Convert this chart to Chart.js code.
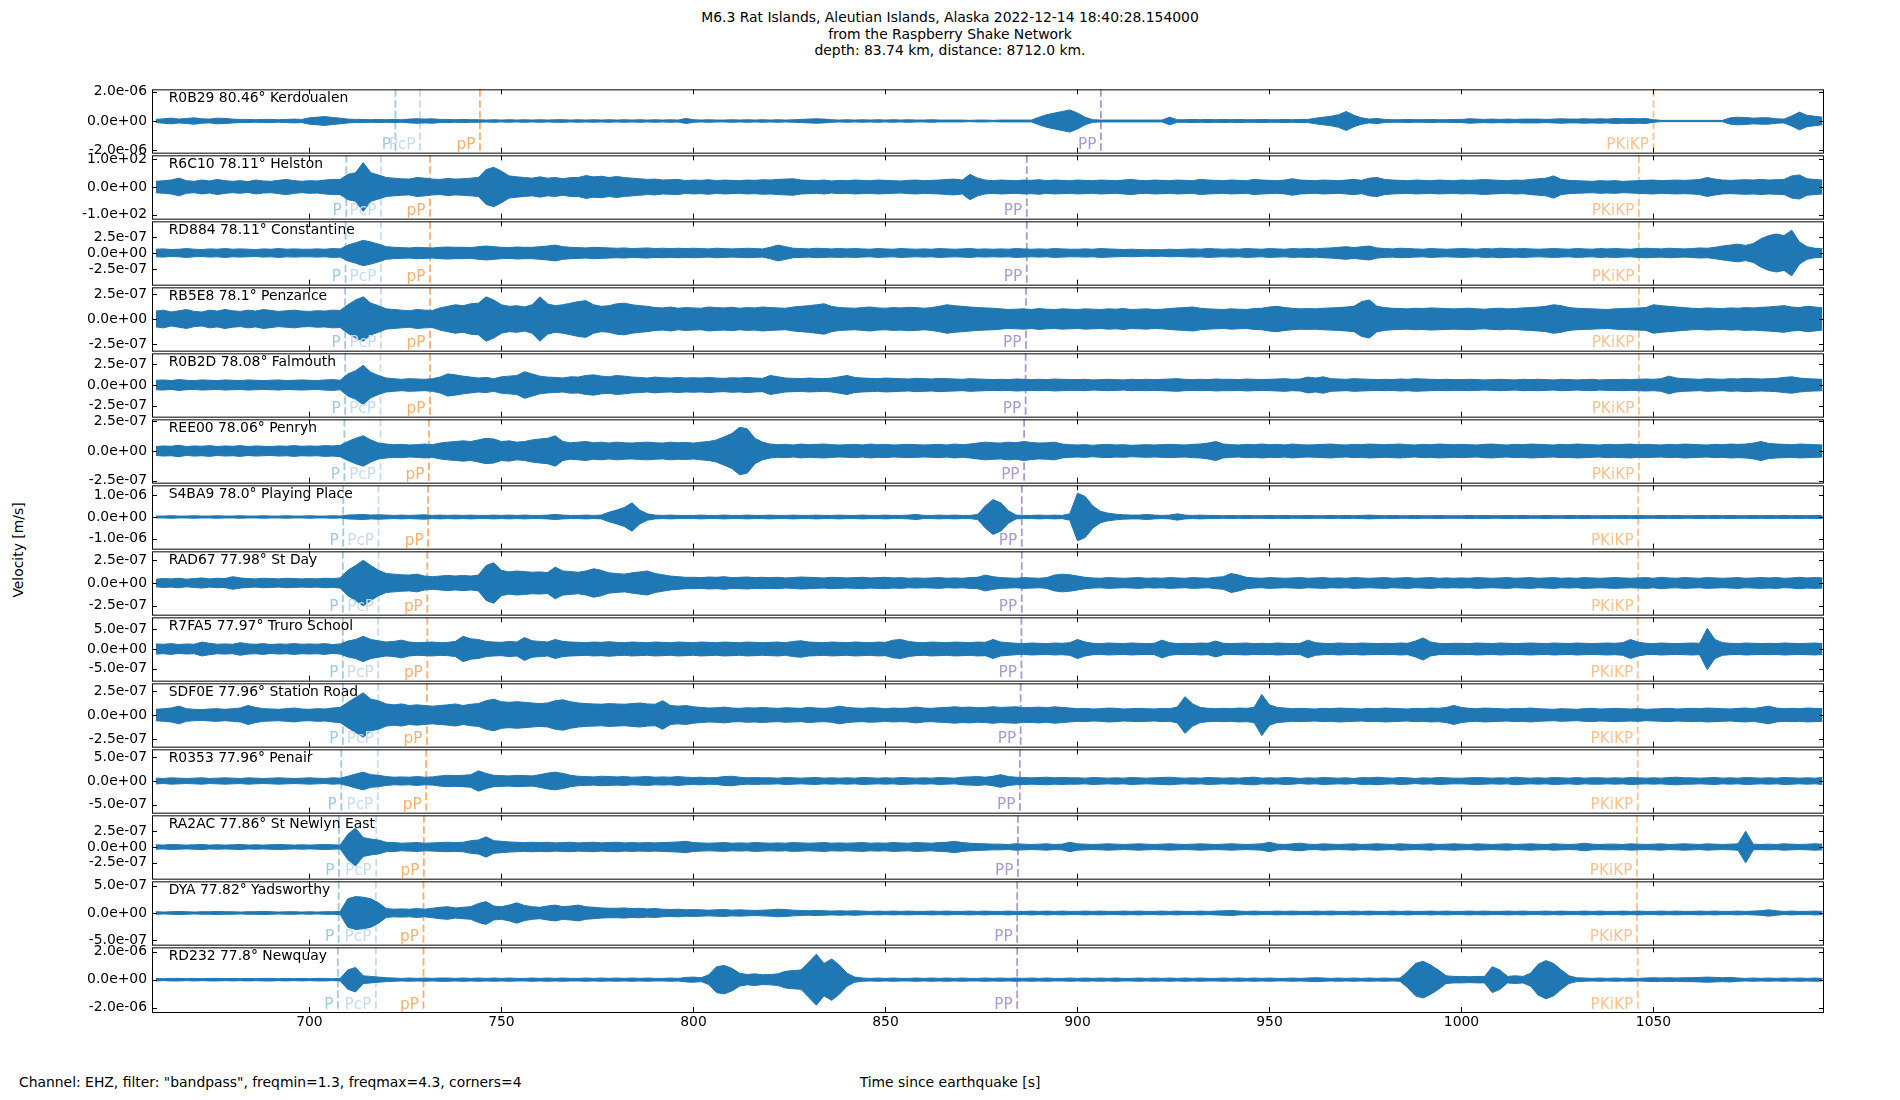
<!DOCTYPE html>
<html><head><meta charset="utf-8">
<script src="https://cdn.jsdelivr.net/npm/chart.js@4.4.0/dist/chart.umd.min.js"></script>
<style>
html,body{margin:0;padding:0;background:#fff;width:1900px;height:1100px;overflow:hidden;}
#wrap{position:relative;width:1900px;height:1100px;background:#fff;}
canvas{position:absolute;left:0;}
.txt{position:absolute;font-family:"DejaVu Sans";font-size:13.9px;line-height:16px;color:#000;white-space:nowrap;}
.ctr{left:0;width:1900px;text-align:center;}
</style></head><body><div id="wrap">
<div class="txt ctr" style="top:9px">M6.3 Rat Islands, Aleutian Islands, Alaska 2022-12-14 18:40:28.154000</div>
<div class="txt ctr" style="top:25.5px">from the Raspberry Shake Network</div>
<div class="txt ctr" style="top:42px">depth: 83.74 km, distance: 8712.0 km.</div>
<div class="txt" style="left:-32px;top:542px;width:100px;text-align:center;transform:rotate(-90deg);">Velocity [m/s]</div>
<div class="txt ctr" style="top:1074px">Time since earthquake [s]</div>
<div class="txt" style="left:19px;top:1074px">Channel: EHZ, filter: "bandpass", freqmin=1.3, freqmax=4.3, corners=4</div>
</div>
<script>
// ---- station labels ----
const stations = ['R0B29 80.46° Kerdoualen','R6C10 78.11° Helston','RD884 78.11° Constantine','RB5E8 78.1° Penzance',
  'R0B2D 78.08° Falmouth','REE00 78.06° Penryn','S4BA9 78.0° Playing Place','RAD67 77.98° St Day',
  'R7FA5 77.97° Truro School','SDF0E 77.96° Station Road','R0353 77.96° Penair','RA2AC 77.86° St Newlyn East',
  'DYA 77.82° Yadsworthy','RD232 77.8° Newquay'];
// y-axis tick value and axis limit per panel
const yTickVal = [2.0e-6, 1.0e2, 2.5e-7, 2.5e-7, 2.5e-7, 2.5e-7, 1.0e-6, 2.5e-7, 5.0e-7, 2.5e-7, 5.0e-7, 2.5e-7, 5.0e-7, 2.0e-6];
const yLimit   = [2.17e-6, 114, 4.95e-7, 3.17e-7, 3.85e-7, 2.66e-7, 1.47e-6, 3.47e-7, 8.0e-7, 3.3e-7, 6.67e-7, 5.1e-7, 5.8e-7, 2.31e-6];
const xTicks = [700, 750, 800, 850, 900, 950, 1000, 1050];
// phase arrival times [s] per panel
const phaseNames = ['P','PcP','pP','PP','PKiKP'];
const arrP     = [722.4,709.6,709.4,709.3,709.3,709.1,708.8,708.7,708.7,708.7,708.3,707.7,707.6,707.4];
const arrPcP   = [728.8,718.6,718.6,718.6,718.5,718.5,718.0,718.0,717.9,717.9,717.8,717.4,717.3,717.3];
const arrpP    = [744.4,731.4,731.4,731.4,731.4,731.1,730.9,730.7,730.7,730.6,730.4,729.8,729.7,729.7];
const arrPP    = [906.1,886.8,886.8,886.6,886.5,886.1,885.5,885.5,885.4,885.2,885.0,884.5,884.3,884.3];
const arrPKiKP = [1050.0,1046.2,1046.2,1046.2,1046.2,1046.2,1046.0,1046.0,1045.9,1045.9,1045.9,1045.7,1045.7,1045.9];
// trace envelopes: amplitude in % of the panel's axis limit, one value every 2 s from 660 s
const tStart = 660, tStep = 2;
const amp1 = [5,7,9,6,8,10,7,6,9,8, 6,5,5,4,5,5,4,5,6,5, 10,12,14,11,9,6,5,5,4,5, 4,5,4,6,7,6,7,5,5,4,
 5,4,4,3,4,3,4,3,4,3, 4,3,4,4,3,4,3,4,3,4, 3,4,3,4,3,4,3,4,3,8, 4,3,4,3,3,4,3,4,3,4,
 3,4,3,4,5,6,7,6,4,3, 4,3,4,3,4,3,4,3,4,3, 3,4,3,3,3,3,2,3,3,2, 3,3,3,3,3,12,20,25,30,35,
 25,12,4,3,3,3,3,3,3,3, 3,3,12,4,4,5,4,5,4,5, 4,5,4,4,5,4,4,5,4,5, 5,9,12,15,20,30,18,10,6,8,
 5,4,4,5,4,4,5,4,4,5, 5,7,6,5,6,5,6,5,6,6, 6,5,6,7,6,6,7,6,7,6, 8,7,8,7,8,4,2,2,2,2,
 2,2,2,2,2,10,12,11,9,10, 10,7,6,16,28,18,15,12];
const amp2 = [18,20,22,28,20,18,22,19,24,20, 18,20,17,22,19,18,21,24,20,18, 20,19,22,24,24,40,45,77,45,38, 30,28,26,25,30,28,25,24,27,25,
 26,28,30,55,62,50,35,32,30,28, 32,28,30,26,30,30,36,32,34,30, 33,30,28,26,24,25,22,23,24,20, 22,21,23,20,22,21,20,22,21,23,
 22,24,25,26,22,21,20,22,19,21, 20,22,21,20,22,21,20,19,21,22, 20,21,22,24,25,22,40,28,22,20, 22,21,20,22,21,23,20,22,21,20,
 22,21,20,22,21,20,22,24,21,20, 22,21,20,22,21,20,24,22,21,20, 22,21,20,24,22,21,20,22,26,22, 21,20,22,21,20,22,24,21,28,30,
 24,22,21,20,22,21,20,22,21,20, 22,21,22,24,22,21,20,22,21,24, 26,28,35,24,21,20,19,18,20,19, 20,18,19,20,21,22,20,21,22,21,
 22,24,30,25,22,21,22,23,22,24, 22,23,24,35,38,26,24,22];
const amp3 = [12,13,11,12,14,12,11,13,12,14, 12,13,12,11,13,12,14,12,13,12, 12,13,12,14,13,25,32,40,35,28, 20,18,17,16,18,17,16,18,19,18,
 18,17,20,22,20,18,17,19,18,18, 20,22,25,20,18,17,16,18,17,16, 15,16,14,15,16,14,15,14,15,14, 15,14,13,15,14,13,14,15,14,13,
 18,25,20,15,14,13,15,14,13,14, 13,14,13,12,14,13,12,14,13,12, 13,12,14,13,12,13,14,12,13,12, 13,12,14,13,12,13,12,14,13,12,
 12,13,12,14,13,12,11,12,11,10, 11,10,12,11,12,13,12,14,13,12, 13,12,14,13,12,14,13,12,14,13, 14,13,15,16,18,20,17,20,22,16,
 14,13,15,14,13,12,14,13,12,13, 14,13,12,14,13,15,14,13,14,13, 12,13,14,13,12,14,13,12,14,13, 14,13,12,14,15,14,13,15,14,13,
 14,16,15,18,22,25,28,24,30,45, 55,60,55,72,35,20,15,14];
const amp4 = [25,28,22,26,30,24,22,28,25,30, 26,24,28,25,30,27,24,26,28,25, 24,26,25,28,27,45,60,70,50,42, 32,30,28,26,30,28,27,35,40,45,
 42,48,50,70,60,45,40,42,38,45, 70,48,42,45,50,55,58,45,40,42, 48,50,45,42,40,36,35,38,34,36, 35,34,38,36,35,37,34,36,35,38,
 36,35,34,38,40,42,45,48,40,36, 35,34,36,38,35,34,36,35,37,36, 34,36,40,45,42,40,38,36,35,34, 32,30,31,32,30,33,31,30,32,31,
 30,32,31,30,32,31,33,30,31,32, 30,31,33,35,36,38,34,32,31,30, 32,31,30,33,34,38,40,36,34,32, 33,32,34,35,36,38,40,55,60,40,
 36,34,33,32,34,33,35,34,33,32, 33,34,32,31,33,34,32,33,35,36, 38,40,45,42,36,34,33,32,31,30, 32,33,34,35,36,45,42,40,38,36,
 34,33,35,34,33,35,34,36,35,37, 38,40,42,38,36,40,38,35];
const amp5 = [15,16,14,17,15,14,16,15,14,16, 15,14,16,15,14,15,16,14,15,16, 15,14,16,17,15,35,45,62,40,30, 22,20,18,20,19,18,20,25,35,32,
 28,25,22,24,20,26,28,30,42,35, 28,25,24,22,26,25,30,32,28,26, 30,28,25,24,22,25,23,22,24,22, 23,22,24,22,21,23,22,24,22,21,
 30,26,22,21,20,22,21,20,22,26, 30,24,22,21,20,22,21,20,19,21, 20,19,21,20,19,18,20,19,18,17, 18,17,19,18,17,18,17,19,18,17,
 17,18,16,17,18,17,16,18,17,18, 17,18,19,20,18,17,18,17,19,18, 18,17,19,18,17,18,19,20,18,19, 25,22,26,20,19,18,20,19,18,17,
 18,17,19,18,20,19,18,17,18,17, 17,18,17,16,17,18,17,16,18,17, 18,17,16,18,17,16,17,18,16,17, 17,18,17,18,19,18,20,28,22,20,
 19,18,20,19,18,20,19,21,20,19, 20,21,24,26,22,20,19,18];
const amp6 = [14,16,15,18,14,16,15,17,14,16, 15,17,14,16,15,14,16,15,17,15, 16,15,17,16,18,30,40,48,35,25, 22,20,21,19,20,22,20,25,28,30,
 32,30,35,40,38,30,32,28,30,35, 38,40,48,30,26,28,30,26,28,25, 28,26,25,27,28,26,25,28,26,27, 25,28,30,35,45,55,75,70,40,28,
 22,20,21,19,22,20,21,22,20,19, 20,21,19,22,20,21,19,20,21,20, 19,20,21,19,22,20,22,25,28,26, 25,28,26,30,27,25,26,28,22,20,
 19,20,18,20,21,19,20,18,19,20, 19,20,21,20,19,21,22,25,30,22, 20,19,21,20,22,20,21,19,22,20, 19,20,21,22,20,19,21,20,22,21,
 20,21,22,20,19,21,20,22,21,20, 21,20,19,21,22,20,19,21,20,22, 21,20,19,21,20,22,21,20,19,21, 20,21,22,20,21,20,19,21,20,22,
 21,20,19,21,20,22,21,22,25,30, 24,22,21,20,22,21,20,19];
const amp7 = [3,3,4,3,3,4,3,3,4,3, 3,4,3,3,4,3,3,4,3,3, 4,3,3,4,3,6,7,8,6,7, 6,5,6,5,6,7,5,6,5,6,
 5,6,5,5,6,5,6,5,6,5, 5,6,8,6,5,5,6,5,6,15, 22,30,45,22,10,6,5,6,5,5, 5,6,5,5,6,5,5,6,5,5,
 6,5,5,6,5,5,6,5,5,6, 5,5,6,5,5,6,5,5,6,8, 5,5,6,5,6,5,5,8,35,55, 45,20,6,5,5,6,5,6,5,10,
 75,65,35,18,12,9,7,6,6,8, 6,5,6,10,6,5,6,5,5,4, 5,4,5,4,4,5,4,5,4,4, 5,4,4,5,4,5,4,5,6,5,
 4,5,4,4,5,4,4,5,4,4, 4,5,4,5,4,4,5,4,5,4, 4,5,4,4,5,4,5,4,4,5, 4,5,4,5,4,4,5,4,5,4,
 4,5,4,5,4,5,4,4,5,4, 5,4,5,4,5,4,5,4];
const amp8 = [12,14,13,15,12,14,16,13,15,14, 20,16,14,13,15,14,13,15,14,13, 14,13,15,14,16,40,55,72,55,40, 30,28,26,25,28,22,20,22,24,22,
 24,22,25,55,64,40,35,38,36,34, 35,33,50,38,36,34,38,45,40,32, 30,28,32,35,38,30,26,22,20,18, 18,17,19,18,20,17,18,19,17,18,
 17,18,16,17,19,18,17,16,18,17, 16,17,18,16,17,18,16,17,15,16, 15,16,17,15,16,15,17,18,25,20, 17,16,15,17,16,15,17,25,28,26,
 22,18,16,15,17,16,15,16,17,15, 16,15,17,16,15,17,16,15,18,20, 30,25,18,16,15,17,16,15,16,17, 15,16,17,15,16,15,17,16,15,16,
 17,15,16,17,15,16,17,15,16,15, 16,15,17,16,15,16,17,15,16,17, 15,16,17,15,16,15,17,16,15,16, 17,16,15,16,17,15,18,16,15,17,
 16,15,17,16,15,16,17,15,16,17, 16,17,15,16,18,16,17,16];
const amp9 = [16,15,17,14,16,15,22,18,15,16, 15,20,16,15,17,14,16,15,17,15, 16,15,17,14,16,25,30,40,30,26, 22,24,28,22,20,21,22,20,21,24,
 40,32,30,24,22,21,24,22,36,26, 24,22,30,24,22,21,20,22,21,23, 21,20,22,21,20,22,21,20,22,21, 20,22,21,20,22,21,20,22,21,20,
 21,22,20,24,26,22,21,20,22,21, 20,22,21,20,22,21,28,30,24,21, 20,22,21,20,22,21,20,22,21,30, 22,20,18,17,19,18,17,19,18,20,
 30,22,18,17,19,18,17,19,18,17, 18,28,20,17,18,17,19,18,25,18, 17,18,19,17,18,17,19,18,17,18, 28,20,18,17,19,18,17,19,18,17,
 18,17,19,18,25,35,22,18,17,18, 18,17,19,18,17,19,18,17,18,19, 18,17,19,18,17,19,18,17,18,19, 18,20,30,22,18,17,19,18,17,18,
 19,18,65,30,20,18,17,19,18,17, 18,17,19,18,17,18,19,17];
const amp10 = [18,20,22,28,20,18,17,19,20,18, 20,22,30,24,20,19,18,20,22,19, 18,20,19,22,24,40,55,70,50,45, 35,32,35,30,32,30,28,30,32,35,
 30,34,36,45,50,42,40,42,40,38, 36,38,45,48,42,38,36,35,34,36, 35,34,36,38,35,34,45,30,28,30, 26,24,22,23,25,22,21,23,22,24,
 22,21,23,22,21,24,22,21,23,28, 24,22,21,23,22,20,22,21,22,25, 22,21,23,24,26,24,25,23,24,26, 24,25,26,23,24,25,23,26,24,22,
 20,21,19,20,22,21,19,20,21,20, 19,21,20,25,58,35,24,21,20,21, 20,22,21,24,65,32,24,22,20,21, 20,19,21,20,22,21,20,19,21,20,
 22,21,20,19,21,20,22,21,24,30, 24,21,20,22,21,20,19,21,20,22, 20,19,18,20,19,18,20,21,19,20, 21,20,19,20,18,19,20,21,19,20,
 21,20,22,21,20,19,21,22,20,24, 28,22,20,21,20,22,21,20];
const amp11 = [9,8,10,9,8,9,10,8,9,10, 9,8,10,9,8,9,10,9,8,9, 10,9,8,10,9,15,22,28,20,18, 14,12,13,12,14,12,13,16,18,17,
 18,20,32,24,18,17,16,18,17,16, 20,25,28,24,18,15,14,13,15,14, 13,14,12,13,14,12,13,12,14,12, 11,12,10,11,14,15,12,10,11,10,
 10,9,11,10,9,10,11,9,10,9, 10,9,11,10,9,10,9,11,10,9, 10,9,11,10,9,12,13,14,12,15, 20,14,12,11,10,11,12,10,11,10,
 10,9,11,10,9,10,9,11,10,9, 10,11,12,10,9,10,9,11,10,9, 10,9,11,12,9,10,9,11,10,8, 10,9,11,10,9,10,8,11,10,12,
 10,9,11,10,8,10,9,11,10,9, 9,10,11,10,9,10,9,12,10,9, 10,9,11,10,9,11,9,10,10,9, 10,9,11,10,9,10,9,11,12,10,
 10,9,10,11,9,10,9,11,10,9, 10,9,11,10,9,10,9,11];
const amp12 = [7,6,8,7,6,7,8,6,7,6, 7,8,6,7,6,7,8,7,6,7, 6,7,8,7,6,40,60,30,25,22, 15,14,12,13,14,12,13,14,15,14,
 15,20,22,32,20,18,16,15,14,15, 14,15,13,14,15,13,14,15,13,14, 15,13,14,13,14,13,14,15,16,18, 14,13,12,13,14,12,13,12,14,13,
 12,13,12,14,13,12,13,14,12,13, 12,13,14,12,13,12,14,13,12,14, 13,12,14,15,18,14,12,11,10,9, 9,8,10,9,8,9,10,8,9,15,
 10,9,8,9,10,9,8,9,10,9, 8,9,10,9,8,9,10,9,8,9, 10,9,8,9,10,15,9,8,10,12, 9,8,10,9,8,9,10,8,9,10,
 9,8,10,9,8,9,10,8,9,10, 9,8,10,9,8,9,10,8,9,10, 9,8,10,9,8,9,12,9,8,9, 9,8,10,9,8,9,10,8,9,10,
 9,8,10,9,8,9,10,50,9,8, 9,8,10,9,8,9,10,9];
const amp13 = [4,3,4,5,4,3,4,4,5,4, 4,3,4,4,5,4,3,4,4,3, 4,3,4,4,5,45,52,50,45,32, 14,12,13,12,14,12,15,18,20,16,
 18,20,30,36,22,20,25,32,24,20, 18,22,25,20,22,25,20,18,16,15, 15,16,14,15,13,14,12,11,12,10, 11,10,9,10,11,9,10,9,8,9,
 10,12,11,9,8,7,8,7,6,7, 6,7,6,5,6,5,6,5,6,5, 5,6,5,6,5,5,6,5,6,5, 5,6,5,5,6,5,6,5,6,5,
 5,6,5,6,5,5,6,5,6,5, 5,6,5,6,5,5,6,5,6,7, 8,6,5,6,5,5,6,5,6,5, 5,6,5,6,5,5,6,5,6,5,
 5,6,5,6,5,5,6,5,6,5, 5,6,5,6,5,5,6,5,6,5, 5,6,5,6,5,5,6,5,6,5, 5,6,5,6,5,5,6,5,6,5,
 5,6,5,6,5,5,6,5,6,7, 10,7,5,6,5,5,6,5];
const amp14 = [4,3,4,4,3,4,3,4,4,3, 4,3,4,3,4,4,3,4,3,4, 3,4,4,3,4,30,38,12,10,8, 6,5,4,5,4,5,4,5,5,4,
 5,4,5,4,5,4,5,4,4,5, 4,5,4,5,4,4,5,4,5,4, 5,4,5,4,5,4,4,5,4,7, 8,6,15,40,44,35,20,16,18,15,
 16,18,26,28,30,54,79,50,64,45, 20,8,5,4,5,4,5,4,4,5, 4,5,4,5,4,5,4,4,5,4, 5,4,5,4,5,4,5,4,4,5,
 4,5,4,5,4,5,4,4,5,4, 5,4,5,4,5,4,5,4,4,5, 4,5,4,5,4,5,4,4,5,4, 5,6,5,4,5,4,5,4,5,4,
 5,4,5,25,50,57,45,30,12,10, 10,9,10,10,40,30,10,12,10,20, 48,59,50,30,12,6,5,4,5,4, 5,4,5,4,5,6,5,6,5,6,
 6,7,8,7,6,7,5,4,5,4, 5,4,5,4,5,4,5,4];

const AMPS = [amp1,amp2,amp3,amp4,amp5,amp6,amp7,amp8,amp9,amp10,amp11,amp12,amp13,amp14];
const PHASES = [
  {name:phaseNames[0], times:arrP,     color:'#9ecae1'},
  {name:phaseNames[1], times:arrPcP,   color:'#c6dbef'},
  {name:phaseNames[2], times:arrpP,    color:'#fdae6b'},
  {name:phaseNames[3], times:arrPP,    color:'#ab9ad2'},
  {name:phaseNames[4], times:arrPKiKP, color:'#fdc28c'}];

const BLUE = '#1f77b4';
const FONT = '"DejaVu Sans"';
const PANEL_TOP = 88, PANEL_H = 66, PLOT_L = 152, PLOT_R = 1824, X_MIN = 659, X_MAX = 1094.4;
const wrap = document.getElementById('wrap');

function fmtSci(v){ return Number(v).toExponential(1).replace(/e([+-])(\d)$/, 'e$10$2'); }

function panelPlugin(i){
  return {
    id:'panel'+i,
    beforeDatasetsDraw(chart){
      const {ctx, chartArea:a, scales:{x}} = chart;
      ctx.save();
      ctx.beginPath(); ctx.rect(a.left, a.top, a.right-a.left, a.bottom-a.top); ctx.clip();
      ctx.lineWidth = 1.8; ctx.setLineDash([7.5, 3.3]);
      PHASES.forEach(ph => {
        const px = x.getPixelForValue(ph.times[i]);
        ctx.strokeStyle = ph.color;
        ctx.beginPath(); ctx.moveTo(px, a.top); ctx.lineTo(px, a.bottom); ctx.stroke();
      });
      ctx.restore();
    },
    afterDatasetsDraw(chart){
      const {ctx, chartArea:a, scales:{x, y}} = chart;
      ctx.save();
      ctx.font = '15.3px ' + FONT; ctx.textAlign = 'right'; ctx.textBaseline = 'alphabetic';
      PHASES.forEach(ph => {
        const px = x.getPixelForValue(ph.times[i]);
        ctx.fillStyle = ph.color;
        ctx.fillText(ph.name, px - 4.5, a.bottom - 3.5);
      });
      ctx.font = '13.9px ' + FONT;
      ctx.fillStyle = '#000'; ctx.textAlign = 'left'; ctx.textBaseline = 'middle';
      ctx.fillText(stations[i], a.left + 0.01*(a.right-a.left), a.top + 9.5);
      ctx.strokeStyle = '#000'; ctx.lineWidth = 1;
      ctx.strokeRect(a.left + 0.5, a.top + 0.5, a.right - a.left - 1, a.bottom - a.top);
      ctx.beginPath();
      xTicks.forEach(v => {
        const px = Math.round(x.getPixelForValue(v)) + 0.5;
        ctx.moveTo(px, a.bottom); ctx.lineTo(px, a.bottom - 5);
        ctx.moveTo(px, a.top); ctx.lineTo(px, a.top + 5);
      });
      [-yTickVal[i], 0, yTickVal[i]].forEach(v => {
        const py = Math.round(y.getPixelForValue(v)) + 0.5;
        ctx.moveTo(a.left, py); ctx.lineTo(a.left + 5, py);
        ctx.moveTo(a.right, py); ctx.lineTo(a.right - 5, py);
      });
      ctx.stroke();
      ctx.restore();
    }
  };
}

function makeChart(i){
  const last = (i === AMPS.length - 1);
  const padT = 12, padB = 12, xH = 30;
  const top = PANEL_TOP + i*PANEL_H;
  const h = padT + PANEL_H + (last ? xH : padB);
  const c = document.createElement('canvas');
  c.width = 1900; c.height = h; c.style.top = (top - padT) + 'px';
  c.style.width = '1900px'; c.style.height = h + 'px';
  wrap.appendChild(c);
  const amps = AMPS[i], lim = yLimit[i];
  const upper = amps.map((a,k) => ({x: tStart + k*tStep, y:  a/100*lim}));
  const lower = amps.map((a,k) => ({x: tStart + k*tStep, y: -a/100*lim}));
  new Chart(c, {
    type:'line',
    data:{datasets:[
      {data:upper, borderColor:BLUE, backgroundColor:BLUE, borderWidth:1, pointRadius:0, fill:'+1', tension:0},
      {data:lower, borderColor:BLUE, backgroundColor:BLUE, borderWidth:1, pointRadius:0, fill:false, tension:0}]},
    options:{
      responsive:false, animation:false, devicePixelRatio:1, events:[],
      layout:{padding:{left:0, right:1900 - PLOT_R, top:padT, bottom: last ? 0 : padB}},
      plugins:{legend:{display:false}, tooltip:{enabled:false}, title:{display:false}},
      scales:{
        x:{type:'linear', min:X_MIN, max:X_MAX, display:last,
           grid:{display:false, drawTicks:false}, border:{display:false},
           ticks:{font:{family:'DejaVu Sans', size:13.9}, color:'#000', padding:2, maxRotation:0, autoSkip:false,
                  callback: v => String(v)},
           afterBuildTicks: s => { s.ticks = xTicks.map(v => ({value:v})); },
           afterFit: s => { s.height = last ? xH : 0; }},
        y:{type:'linear', min:-lim, max:lim,
           grid:{display:false, drawTicks:false}, border:{display:false},
           ticks:{font:{family:'DejaVu Sans', size:13.9}, color:'#000', padding:5, callback: v => fmtSci(v)},
           afterBuildTicks: s => { s.ticks = [{value:-yTickVal[i]},{value:0},{value:yTickVal[i]}]; },
           afterFit: s => { s.width = PLOT_L; }}
      }
    },
    plugins:[panelPlugin(i)]
  });
}
for (let i = 0; i < AMPS.length; i++) makeChart(i);
</script>
</body></html>
